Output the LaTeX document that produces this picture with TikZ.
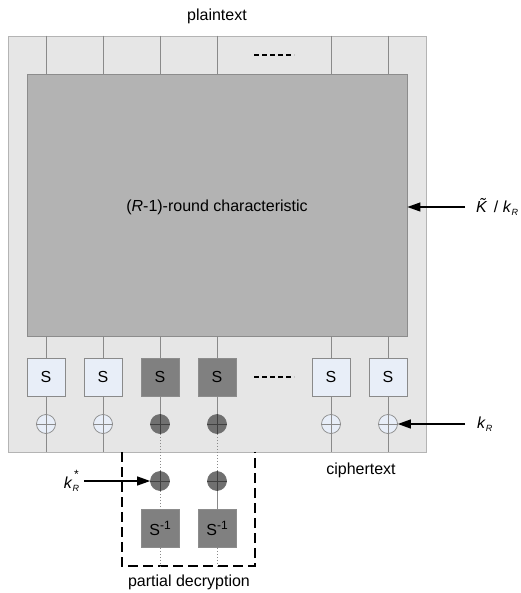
\documentclass[tikz,border=0pt]{standalone}
\usepackage{fontspec}
\setmainfont{Liberation Sans}
\usetikzlibrary{arrows.meta}
\definecolor{outerfill}{HTML}{E6E6E6}
\definecolor{outerdraw}{HTML}{B4B4B4}
\definecolor{innerfill}{HTML}{B3B3B3}
\definecolor{innerdraw}{HTML}{8C8C8C}
\definecolor{lightfill}{HTML}{E8EEF8}
\definecolor{darkfill}{HTML}{808080}
\definecolor{darkxor}{HTML}{707070}
\definecolor{linegrey}{HTML}{8A8A8A}
\newcommand{\kR}{\textit{k}{\fontsize{9}{9}\selectfont\raisebox{-2.5pt}{\textit{R}}}}
\newcommand{\Sinv}{S\raisebox{6pt}{\fontsize{12}{12}\selectfont -1}}
\begin{document}
\begin{tikzpicture}[x=1pt,y=-1pt,
  font=\fontsize{16}{19}\selectfont,
  outerbox/.style={draw=outerdraw,fill=outerfill,line width=0.8pt,minimum width=418pt,minimum height=416pt,inner sep=0pt},
  innerbox/.style={draw=innerdraw,fill=innerfill,line width=0.8pt,minimum width=380pt,minimum height=262pt,inner sep=0pt},
  sboxl/.style={draw=linegrey,fill=lightfill,line width=0.7pt,minimum size=38pt,inner sep=0pt},
  sboxd/.style={draw=innerdraw,fill=darkfill,line width=0.7pt,minimum size=38pt,inner sep=0pt},
  xorl/.style={circle,draw=linegrey,fill=lightfill,line width=0.7pt,minimum size=19pt,inner sep=0pt},
  xord/.style={circle,draw=darkxor,fill=darkxor,line width=0.7pt,minimum size=19pt,inner sep=0pt},
  col/.style={draw=linegrey,line width=0.7pt},
  coldot/.style={draw=linegrey,line width=0.6pt,dash pattern=on 1.5pt off 1.5pt},
  plus/.style={draw=linegrey,line width=0.6pt},
  plusd/.style={draw=black!75,line width=0.6pt},
  keyarrow/.style={draw=black,line width=1.2pt,-{Triangle[length=13pt,width=9pt]}},
  dots/.style={draw=black,line width=2.6pt,dash pattern=on 5pt off 3pt},
  pdbox/.style={draw=black,line width=1.5pt,dash pattern=on 10pt off 5pt},
  lbl/.style={inner sep=0pt}]
\useasboundingbox (0,0) rectangle (520,593);

\node[outerbox] (outer) at (217,244) {};
\node[innerbox] (inner) at (217,205) {};
\node[lbl] (char) at (217,207) {(\textit{R}-1)-round characteristic};

% S boxes
\node[sboxl] (s1) at (46,377) {S};
\node[sboxl] (s2) at (103,377) {S};
\node[sboxd] (s3) at (160,377) {S};
\node[sboxd] (s4) at (217,377) {S};
\node[sboxl] (s5) at (331,377) {S};
\node[sboxl] (s6) at (388,377) {S};

% xors
\node[xorl] (x1) at (46,424) {};
\node[xorl] (x2) at (103,424) {};
\node[xord] (x3) at (160,424) {};
\node[xord] (x4) at (217,424) {};
\node[xorl] (x5) at (331,424) {};
\node[xorl] (x6) at (388,424) {};

% column lines
\foreach \i in {1,2,3,4,5,6}{
  \draw[col] (s\i |- outer.north) -- (s\i |- inner.north);
  \draw[col] (s\i |- inner.south) -- (s\i.north);
  \draw[col] (s\i.south) -- (x\i.north);
}
\foreach \i in {1,2,5,6}{
  \draw[col] (x\i.south) -- (x\i |- outer.south);
  \draw[plus] (x\i.north) -- (x\i.south) (x\i.west) -- (x\i.east);
}
\foreach \i in {3,4}{
  \draw[plusd] (x\i.north) -- (x\i.south) (x\i.west) -- (x\i.east);
}

% dots
\coordinate (d1) at (254,55);
\coordinate (d2) at (294,55);
\draw[dots] (d1) -- (d2);
\coordinate (d3) at (254,377);
\coordinate (d4) at (294,377);
\draw[dots] (d3) -- (d4);

% partial decryption
\node[xord] (l3) at (160,481) {};
\node[xord] (l4) at (217,481) {};
\node[sboxd] (i3) at (160,528.5) {\Sinv};
\node[sboxd] (i4) at (217,528.5) {\Sinv};
\coordinate (pa) at (122,452);
\coordinate (pb) at (122,566);
\coordinate (pc) at (255,566);
\coordinate (pd) at (255,452);
\draw[pdbox] (pa) -- (pb) -- (pc) -- (pd);

\draw[coldot] (x3.south) -- (l3.north);
\draw[coldot] (x4.south) -- (l4.north);
\draw[coldot] (l3.south) -- (i3.north);
\draw[col] (l4.south) -- (i4.north);
\draw[coldot] (i3.south) -- (i3 |- pb);
\draw[coldot] (i4.south) -- (i4 |- pb);
\draw[plusd] (l3.north) -- (l3.south) (l3.west) -- (l3.east);
\draw[plusd] (l4.north) -- (l4.south) (l4.west) -- (l4.east);

% labels
\node[lbl] (pt) at (217,16) {plaintext};
\node[lbl] (ct) at (361,470) {ciphertext};
\node[lbl] (pdl) at (189,582) {partial decryption};

% key arrows
\coordinate (kin) at (465,207);
\draw[keyarrow] (kin) -- (kin -| inner.east);
\node[lbl,anchor=west] (klabel) at (476,207) {\textit{\~{K}}\, / \kR};

\coordinate (krin) at (465,424);
\draw[keyarrow] (krin) -- (x6.east);
\node[lbl,anchor=west] (krlabel) at (477,424) {\kR};

\coordinate (ksin) at (84,481);
\draw[keyarrow] (ksin) -- (l3.west);
\node[lbl,anchor=east] (kslabel) at (79,481) {\textit{k}{\fontsize{9}{9}\selectfont\raisebox{-2.5pt}{\textit{R}}\hspace{-5pt}\raisebox{10pt}{\fontsize{12}{12}\selectfont *}}};
\end{tikzpicture}
\end{document}
